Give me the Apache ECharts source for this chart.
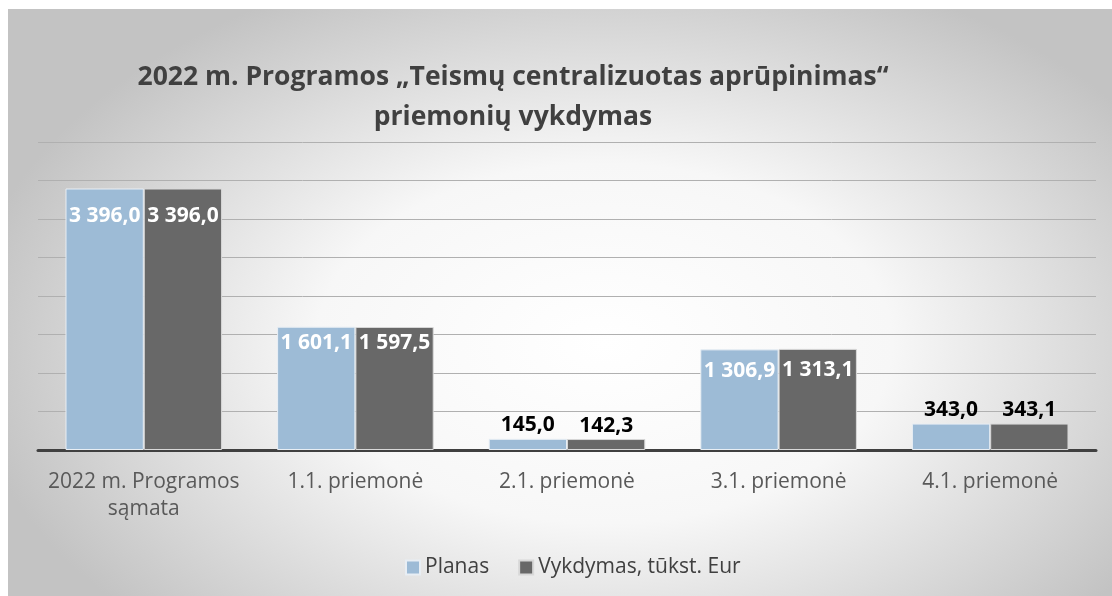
<!DOCTYPE html>
<html>
<head>
<meta charset="utf-8">
<script src="https://cdn.jsdelivr.net/npm/echarts@6/dist/echarts.min.js"></script>
<style>
  html, body { margin: 0; padding: 0; background: #fff; }
  #chart {
    position: absolute; left: 8px; top: 9px; width: 1104px; height: 587px;
    background: radial-gradient(ellipse 640px 400px at 54% 57%, #ffffff 0%, #f7f7f7 45%, #c3c3c3 100%);
  }
</style>
</head>
<body>
<div id="chart"></div>
<script>
const categories = ['2022 m. Programos\nsąmata', '1.1. priemonė', '2.1. priemonė', '3.1. priemonė', '4.1. priemonė']
const planas = [3396.0, 1601.1, 145.0, 1306.9, 343.0]
const vykdymas = [3396.0, 1597.5, 142.3, 1313.1, 343.1]
const seriesNames = ['Planas', 'Vykdymas, tūkst. Eur']

const FONT = '"Open Sans", "Noto Sans", sans-serif'
// label distance from bar top for the labels drawn inside the bars
const insideDist = [17, 6, 0, 11, 0]

// 3 396,0 style
function fmt(v) {
  const parts = v.toFixed(1).split('.')
  return parts[0].replace(/\B(?=(\d{3})+(?!\d))/g, ' ') + ',' + parts[1]
}

function toItems(values) {
  return values.map((v, i) => {
    const inside = v > 1000
    return {
      value: v,
      label: {
        show: true,
        position: inside ? 'insideTop' : 'top',
        distance: inside ? insideDist[i] : 3,
        color: inside ? '#ffffff' : '#000000',
        fontWeight: 'bold',
        fontSize: 21,
        fontFamily: FONT,
        formatter: p => fmt(p.value)
      }
    }
  })
}

const chart = echarts.init(document.getElementById('chart'))
chart.setOption({
  backgroundColor: 'transparent',
  animation: false,
  title: {
    text: '2022 m. Programos „Teismų centralizuotas aprūpinimas“\npriemonių vykdymas',
    left: 500,
    top: 43,
    textAlign: 'center',
    textStyle: {
      fontFamily: FONT,
      fontWeight: 'bold',
      fontSize: 26.5,
      lineHeight: 40,
      color: '#404040'
    }
  },
  legend: {
    top: 543,
    left: 392,
    itemWidth: 14,
    itemHeight: 14,
    itemGap: 29,
    icon: 'rect',
    textStyle: { fontFamily: FONT, fontSize: 21, color: '#404040' },
    data: seriesNames
  },
  grid: { left: 30, right: 16, top: 133, bottom: 146 },
  xAxis: {
    type: 'category',
    data: categories,
    axisLine: { lineStyle: { color: '#404040', width: 3 } },
    axisTick: { show: false },
    axisLabel: { interval: 0, fontFamily: FONT, fontSize: 21, color: '#595959', margin: 19, lineHeight: 27 }
  },
  yAxis: {
    type: 'value',
    min: 0,
    max: 4000,
    interval: 500,
    axisLabel: { show: false },
    axisLine: { show: false },
    axisTick: { show: false },
    splitLine: { lineStyle: { color: '#b0b0b0', width: 1 } }
  },
  series: [
    {
      name: seriesNames[0],
      type: 'bar',
      data: toItems(planas),
      barGap: '0%',
      barCategoryGap: '26%',
      itemStyle: { color: '#9dbbd6', borderColor: '#e8eef4', borderWidth: 1 }
    },
    {
      name: seriesNames[1],
      type: 'bar',
      data: toItems(vykdymas),
      itemStyle: { color: '#686868', borderColor: '#d8d8d8', borderWidth: 1 }
    }
  ]
})
</script>
</body>
</html>
